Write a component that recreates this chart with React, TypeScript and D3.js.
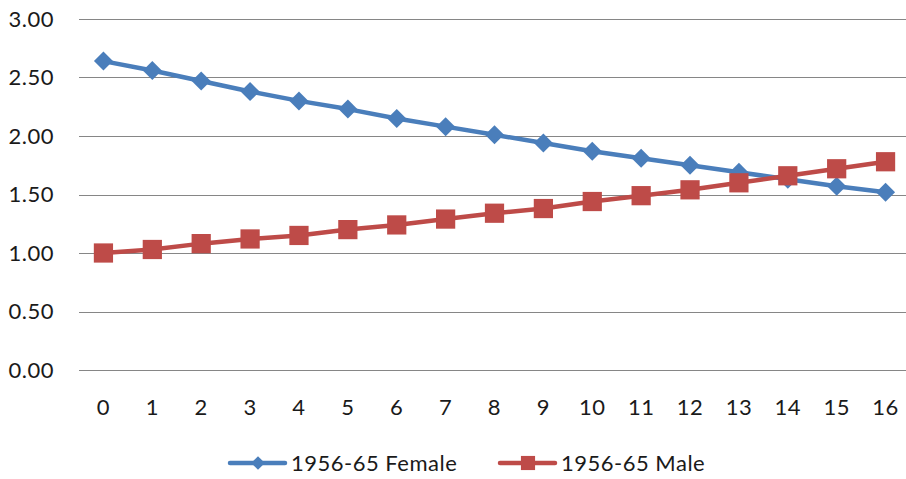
import React, { useEffect, useRef } from "react";
import * as d3 from "d3";

const years = d3.range(0, 17).map(String);
const female = [2.64, 2.56, 2.47, 2.38, 2.30, 2.23, 2.15, 2.08, 2.01, 1.94, 1.87, 1.81, 1.75, 1.69, 1.63, 1.57, 1.52];
const male = [1.0, 1.03, 1.08, 1.12, 1.15, 1.2, 1.24, 1.29, 1.34, 1.38, 1.44, 1.49, 1.54, 1.6, 1.66, 1.72, 1.78];
const yTicks = [0, 0.5, 1, 1.5, 2, 2.5, 3];
const seriesNames = ["1956-65 Female", "1956-65 Male"];

const BLUE = "#4a7ebb";
const RED = "#be4b48";
const FONT = "Lato, 'Open Sans', sans-serif";

export default function App() {
  const svgRef = useRef<SVGSVGElement>(null);
  const width = 906;
  const height = 479;

  useEffect(() => {
    if (!svgRef.current) return;
    const svg = d3.select(svgRef.current);
    svg.selectAll("*").remove();

    const margin = { top: 19, right: -4, bottom: 109, left: 79 };

    const x = d3
      .scaleBand()
      .domain(years)
      .range([margin.left, width - margin.right]);

    const y = d3
      .scaleLinear()
      .domain([0, 3])
      .range([height - margin.bottom, margin.top]);

    const cx = (i: number) => (x(years[i]) as number) + x.bandwidth() / 2;

    const textStyle = (sel: any) =>
      sel
        .style("font-family", FONT)
        .style("font-size", "22px")
        .style("letter-spacing", "0.5px")
        .attr("fill", "#1a1a1a");

    // grid lines
    svg
      .append("g")
      .selectAll("line")
      .data(yTicks)
      .enter()
      .append("line")
      .attr("x1", margin.left)
      .attr("x2", width)
      .attr("y1", (d) => Math.round(y(d)) + 0.5)
      .attr("y2", (d) => Math.round(y(d)) + 0.5)
      .attr("stroke", "#868686")
      .attr("stroke-width", 1);

    // y labels
    svg
      .append("g")
      .selectAll("text")
      .data(yTicks)
      .enter()
      .append("text")
      .attr("x", 54)
      .attr("y", (d) => y(d))
      .attr("dy", "0.35em")
      .attr("text-anchor", "end")
      .call(textStyle)
      .text((d) => d.toFixed(2));

    // x labels
    svg
      .append("g")
      .selectAll("text")
      .data(years)
      .enter()
      .append("text")
      .attr("x", (d, i) => cx(i))
      .attr("y", 407)
      .attr("dy", "0.35em")
      .attr("text-anchor", "middle")
      .call(textStyle)
      .text((d) => d);

    const line = d3
      .line<number>()
      .x((d, i) => cx(i))
      .y((d) => y(d));

    const diamond = d3.symbol().type(d3.symbolDiamond2).size(230);
    const square = d3.symbol().type(d3.symbolSquare).size(370);

    // female series
    svg
      .append("path")
      .datum(female)
      .attr("d", line)
      .attr("fill", "none")
      .attr("stroke", BLUE)
      .attr("stroke-width", 4.5)
      .attr("stroke-linejoin", "round");

    svg
      .append("g")
      .selectAll("path")
      .data(female)
      .enter()
      .append("path")
      .attr("d", diamond)
      .attr("transform", (d, i) => `translate(${cx(i)},${y(d)})`)
      .attr("fill", BLUE);

    // male series
    svg
      .append("path")
      .datum(male)
      .attr("d", line)
      .attr("fill", "none")
      .attr("stroke", RED)
      .attr("stroke-width", 4.5)
      .attr("stroke-linejoin", "round");

    svg
      .append("g")
      .selectAll("path")
      .data(male)
      .enter()
      .append("path")
      .attr("d", square)
      .attr("transform", (d, i) => `translate(${cx(i)},${y(d)})`)
      .attr("fill", RED);

    // legend
    const legendY = 463;
    const legend = [
      { name: seriesNames[0], color: BLUE, x: 230, sym: d3.symbol().type(d3.symbolDiamond2).size(120) },
      { name: seriesNames[1], color: RED, x: 500, sym: d3.symbol().type(d3.symbolSquare).size(200) },
    ];
    const lg = svg
      .append("g")
      .selectAll("g")
      .data(legend)
      .enter()
      .append("g")
      .attr("transform", (d) => `translate(${d.x},${legendY})`);

    lg.append("line")
      .attr("x1", 0)
      .attr("x2", 55)
      .attr("stroke", (d) => d.color)
      .attr("stroke-width", 4.5)
      .attr("stroke-linecap", "round");

    lg.append("path")
      .attr("d", (d) => d.sym())
      .attr("transform", "translate(28,0)")
      .attr("fill", (d) => d.color);

    lg.append("text")
      .attr("x", 61)
      .attr("dy", "0.35em")
      .call(textStyle)
      .text((d) => d.name);
  }, []);

  return (
    <svg
      ref={svgRef}
      width={width}
      height={height}
      style={{ position: "absolute", left: 0, top: 0, background: "#fff" }}
    ></svg>
  );
}
